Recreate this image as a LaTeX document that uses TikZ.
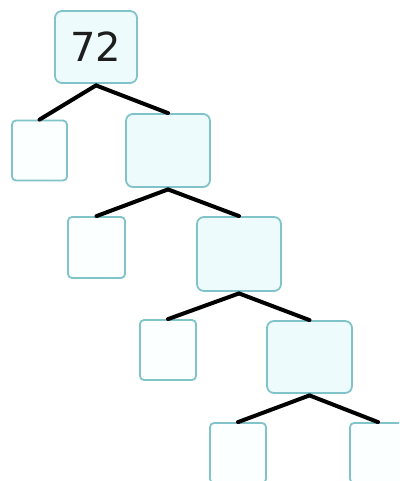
\documentclass[tikz,border=0pt]{standalone}
\usepackage{fontspec}
\setmainfont{DejaVu Sans}
\definecolor{boxline}{HTML}{80C4C9}
\definecolor{boxfill}{HTML}{EDFBFD}
\definecolor{smallfill}{HTML}{FCFFFF}
\definecolor{numtext}{HTML}{1E1E1E}
\tikzset{
  bigbox/.style={draw=boxline, line width=1.8pt, fill=boxfill, rounded corners=7pt, minimum width=83pt, minimum height=72pt, inner sep=0pt},
  smallbox/.style={draw=boxline, line width=1.8pt, fill=smallfill, rounded corners=4pt, minimum width=55pt, minimum height=60pt, inner sep=0pt},
  branch/.style={line width=4pt, black, line cap=round}
}
\begin{document}
\begin{tikzpicture}[x=1pt,y=-1pt]
\useasboundingbox (0,0) rectangle (399,481);
\clip (0,0) rectangle (399,481);
\fill[white] (0,0) rectangle (399,481);
\node[bigbox, minimum width=82pt, text=numtext] (top) at (96,47) {\fontsize{40}{44}\selectfont 72};
\node[smallbox] (s1) at (39.5,150.5) {};
\node[bigbox, minimum width=84pt, minimum height=73pt] (b1) at (168,150.5) {};
\node[smallbox, minimum width=57pt, minimum height=61pt] (s2) at (96.5,247.5) {};
\node[bigbox, minimum width=84pt, minimum height=74pt] (b2) at (239,254) {};
\node[smallbox, minimum width=56pt] (s3) at (168,350) {};
\node[bigbox, minimum width=85pt] (b3) at (309.5,357) {};
\node[smallbox, minimum width=56pt] (s4) at (238,453) {};
\node[smallbox, minimum width=56pt] (s5) at (378,453) {};
\draw[branch] ([yshift=-1.5pt]top.south) -- (s1.north);
\draw[branch] ([yshift=-1.5pt]top.south) -- (b1.north);
\draw[branch] ([yshift=-1.5pt]b1.south) -- (s2.north);
\draw[branch] ([yshift=-1.5pt]b1.south) -- (b2.north);
\draw[branch] ([yshift=-1.5pt]b2.south) -- (s3.north);
\draw[branch] ([yshift=-1.5pt]b2.south) -- (b3.north);
\draw[branch] ([yshift=-1.5pt]b3.south) -- (s4.north);
\draw[branch] ([yshift=-1.5pt]b3.south) -- (s5.north);
\end{tikzpicture}
\end{document}
